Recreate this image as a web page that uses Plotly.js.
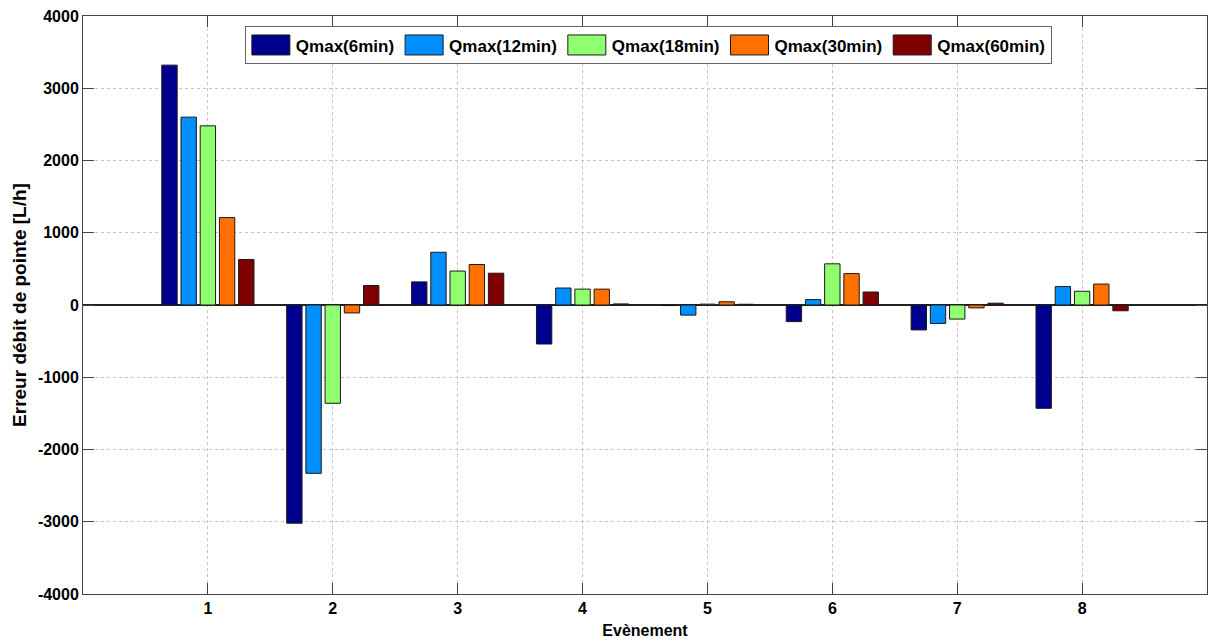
<!DOCTYPE html>
<html>
<head>
<meta charset="utf-8">
<script src="https://cdn.plot.ly/plotly-3.0.1.min.js"></script>
<style>html,body{margin:0;padding:0;background:#fff}#chart{width:1208px;height:642px}</style>
</head>
<body>
<div id="chart"></div>
<script>
const events = [1, 2, 3, 4, 5, 6, 7, 8];
const seriesNames = ["Qmax(6min)", "Qmax(12min)", "Qmax(18min)", "Qmax(30min)", "Qmax(60min)"];
const q6  = [3320, -3020, 320, -540, -8, -230, -345, -1430];
const q12 = [2600, -2330, 730, 235, -140, 75, -255, 255];
const q18 = [2480, -1360, 470, 220, 12, 570, -195, 190];
const q30 = [1210, -110, 560, 220, 45, 435, -40, 290];
const q60 = [630, 270, 440, 15, 10, 180, 25, -80];
const colors = ["#00008F", "#008FFF", "#8FFF70", "#FF7000", "#800000"];
const yTicks = [-4000, -3000, -2000, -1000, 0, 1000, 2000, 3000, 4000];

const allSeries = [q6, q12, q18, q30, q60];
const fam = "Liberation Sans, Arial, sans-serif";

const data = allSeries.map((vals, i) => ({
  type: "bar",
  x: events,
  y: vals,
  name: seriesNames[i],
  marker: {color: colors[i], line: {color: "#1a1a1a", width: 1}},
  hoverinfo: "x+y+name"
}));

const layout = {
  width: 1208,
  height: 642,
  margin: {l: 83, r: 1, t: 16, b: 48},
  paper_bgcolor: "#fff",
  plot_bgcolor: "#fff",
  barmode: "group",
  bargap: 0.231,
  bargroupgap: 0.2,
  font: {family: fam, size: 14, color: "#000"},
  showlegend: true,
  legend: {
    orientation: "h",
    x: 0.503, xanchor: "center",
    y: 0.982, yanchor: "top",
    bgcolor: "#fff",
    bordercolor: "#666",
    borderwidth: 1,
    font: {family: fam, size: 17, color: "#000", weight: "bold"},
    itemwidth: 40,
    tracegroupgap: 0,
    traceorder: "normal"
  },
  xaxis: {
    range: [0, 9],
    tickvals: events,
    ticktext: events.map(String),
    ticks: "inside",
    ticklen: 11,
    tickcolor: "#444",
    showline: true,
    linecolor: "#444",
    linewidth: 1,
    mirror: "ticks",
    showgrid: true,
    gridcolor: "#c4c4c4",
    griddash: "dot",
    gridwidth: 1,
    zeroline: false,
    tickfont: {family: fam, size: 16, color: "#000", weight: "bold"},
    title: {text: "Evènement", standoff: 8, font: {family: fam, size: 16, color: "#000", weight: "bold"}}
  },
  yaxis: {
    range: [-4000, 4000],
    tickvals: yTicks,
    ticktext: yTicks.map(String),
    ticks: "inside",
    ticklen: 11,
    tickcolor: "#444",
    showline: true,
    linecolor: "#444",
    linewidth: 1,
    mirror: "ticks",
    showgrid: true,
    gridcolor: "#c4c4c4",
    griddash: "dot",
    gridwidth: 1,
    zeroline: true,
    zerolinecolor: "#222",
    zerolinewidth: 1.5,
    tickfont: {family: fam, size: 16, color: "#000", weight: "bold"},
    title: {text: "Erreur débit de pointe [L/h]", standoff: 6, font: {family: fam, size: 19, color: "#000", weight: "bold"}}
  }
};

Plotly.newPlot("chart", data, layout, {displayModeBar: false, staticPlot: true}).then(gd => {
  // widen legend swatches to look like the reference's rectangular patches
  gd.querySelectorAll(".legend .legendpoints path").forEach(p => {
    p.setAttribute("d", "M-19,-10H19V10H-19Z");
  });
});
</script>
</body>
</html>
